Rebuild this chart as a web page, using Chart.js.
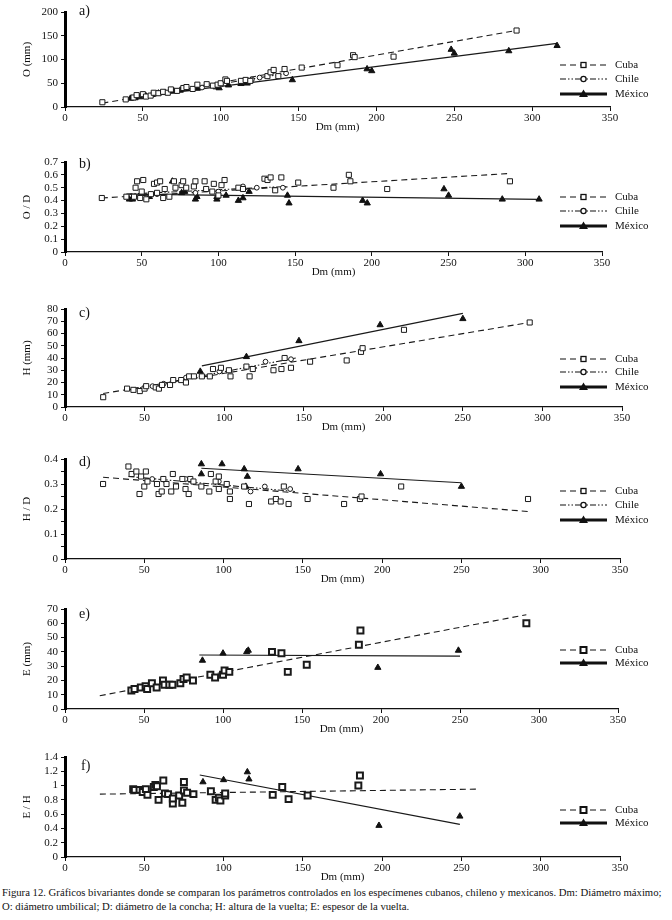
<!DOCTYPE html>
<html><head><meta charset="utf-8">
<script src="https://cdn.jsdelivr.net/npm/chart.js@4/dist/chart.umd.min.js"></script>
<style>
body{margin:0;background:#fff;width:672px;height:920px;position:relative;overflow:hidden;font-family:'Liberation Serif',serif;color:#111;}
canvas{position:absolute;left:0;}
.lbl{position:absolute;font-size:14px;line-height:14px;color:#111;}
.cap{position:absolute;left:2px;font-size:10.7px;line-height:14px;white-space:nowrap;color:#111;}
</style></head><body>
<canvas id="ca"></canvas><canvas id="cb"></canvas><canvas id="cc"></canvas>
<canvas id="cd"></canvas><canvas id="ce"></canvas><canvas id="cf"></canvas>
<div class="lbl" style="left:79px;top:4px">a)</div>
<div class="lbl" style="left:79px;top:157px">b)</div>
<div class="lbl" style="left:79px;top:306px">c)</div>
<div class="lbl" style="left:79px;top:455px">d)</div>
<div class="lbl" style="left:79px;top:607px">e)</div>
<div class="lbl" style="left:81px;top:759px">f)</div>
<div class="cap" style="top:885px">Figura 12. Gráficos bivariantes donde se comparan los parámetros controlados en los especímenes cubanos, chileno y mexicanos. Dm: Diámetro máximo;<br>O: diámetro umbilical; D: diámetro de la concha; H: altura de la vuelta; E: espesor de la vuelta.</div>
<script>
// ---- data (Dm, value) ----
const seriesNames = ['Cuba', 'Chile', 'México'];
const xTicks = [0, 50, 100, 150, 200, 250, 300, 350];

// a) O (mm)
const a_cuba = [[24,10],[39,16],[44,20],[46,25],[50,27],[52,22],[55,24],[57,30],[60,29],[63,32],[66,30],[68,37],[72,34],[76,40],[78,42],[82,38],[85,47],[91,48],[95,45],[98,47],[100,50],[103,58],[104,55],[113,55],[116,57],[119,55],[130,65],[132,73],[134,78],[137,65],[141,80],[152,83],[175,88],[185,109],[186,105],[211,106],[290,161]];
const a_chile = [[58,28],[72,34],[88,41],[100,47],[115,56],[120,58],[125,62],[142,71]];
const a_mex = [[42,18],[45,19],[48,21],[52,23],[56,26],[60,29],[64,30],[70,33],[74,35],[78,38],[85,39],[97,42],[99,40],[105,46],[113,49],[115,53],[117,50],[146,57],[194,80],[197,76],[248,121],[250,113],[285,118],[316,129]];
const a_cubaFit = [[24,8],[288,160]];
const a_chileFit = [[40,18],[145,72]];
const a_mexFit = [[40,18],[316,134]];

// b) O / D
const b_cuba = [[24,0.42],[40,0.43],[45,0.43],[46,0.50],[47,0.55],[49,0.42],[50,0.47],[51,0.56],[53,0.41],[56,0.45],[58,0.53],[60,0.54],[60,0.46],[62,0.55],[64,0.42],[65,0.49],[68,0.43],[71,0.55],[72,0.50],[76,0.52],[77,0.55],[79,0.50],[84,0.51],[85,0.55],[91,0.55],[92,0.49],[96,0.47],[97,0.53],[100,0.44],[102,0.52],[104,0.56],[113,0.50],[116,0.49],[130,0.57],[132,0.56],[134,0.58],[137,0.48],[141,0.58],[152,0.54],[175,0.50],[185,0.60],[186,0.55],[210,0.49],[290,0.55]];
const b_chile = [[60,0.45],[85,0.46],[100,0.47],[116,0.51],[125,0.50],[142,0.50]];
const b_mex = [[42,0.41],[44,0.41],[55,0.43],[70,0.55],[76,0.46],[78,0.47],[85,0.41],[86,0.43],[99,0.41],[99,0.43],[105,0.44],[113,0.40],[116,0.42],[120,0.47],[145,0.44],[146,0.38],[194,0.40],[197,0.38],[247,0.49],[250,0.44],[285,0.41],[309,0.41]];
const b_cubaFit = [[24,0.42],[289,0.61]];
const b_chileFit = [[40,0.45],[145,0.51]];
const b_mexFit = [[42,0.45],[309,0.41]];

// c) H (mm)
const c_cuba = [[24,8],[39,15],[43,14],[47,13],[50,15],[51,17],[57,16],[59,15],[61,18],[66,18],[68,22],[73,22],[76,20],[78,25],[81,25],[86,25],[91,25],[93,31],[98,32],[103,30],[104,25],[114,33],[116,25],[118,31],[131,30],[136,31],[138,40],[142,32],[154,37],[177,38],[186,45],[187,48],[213,63],[292,69]];
const c_chile = [[55,17],[62,19],[76,24],[97,29],[126,37],[142,39]];
const c_mex = [[85,29],[114,41],[147,54],[198,67],[250,72]];
const c_cubaFit = [[24,11],[292,69]];
const c_chileFit = [[40,14],[145,40]];
const c_mexFit = [[86,33.5],[250,76.5]];

// d) H / D
const d_cuba = [[24,0.30],[40,0.37],[42,0.34],[45,0.35],[47,0.26],[48,0.33],[50,0.29],[51,0.35],[52,0.31],[58,0.30],[59,0.26],[61,0.27],[62,0.32],[64,0.30],[67,0.27],[68,0.34],[70,0.29],[74,0.32],[76,0.28],[78,0.26],[79,0.32],[81,0.31],[86,0.29],[91,0.27],[92,0.34],[95,0.31],[97,0.33],[97,0.28],[102,0.30],[104,0.27],[104,0.24],[113,0.29],[116,0.22],[130,0.23],[133,0.24],[136,0.23],[138,0.29],[141,0.22],[153,0.24],[176,0.22],[186,0.24],[187,0.25],[212,0.29],[292,0.24]];
const d_chile = [[55,0.32],[76,0.32],[97,0.31],[117,0.27],[126,0.29],[142,0.28]];
const d_mex = [[86,0.34],[86,0.38],[99,0.38],[113,0.36],[114,0.29],[115,0.33],[147,0.36],[199,0.34],[250,0.29]];
const d_cubaFit = [[24,0.327],[292,0.19]];
const d_chileFit = [[40,0.33],[145,0.27]];
const d_mexFit = [[86,0.363],[250,0.305]];

// e) E (mm)
const e_cuba = [[42,13],[44,14],[48,15],[51,16],[52,14],[55,18],[58,15],[62,20],[63,17],[66,17],[68,17],[73,18],[75,21],[77,22],[81,20],[92,24],[95,22],[100,24],[101,27],[104,26],[131,40],[137,39],[141,26],[153,31],[186,45],[187,55],[292,60]];
const e_mex = [[87,34],[100,39],[115,40],[116,41],[198,29],[249,41]];
const e_cubaFit = [[22,9.3],[292,66]];
const e_mexFit = [[85,37.8],[250,37]];

// f) E / H
const f_cuba = [[43,0.95],[44,0.94],[47,0.94],[49,0.91],[51,0.95],[52,0.87],[56,0.98],[57,1.01],[58,0.99],[59,0.80],[62,1.07],[63,0.89],[65,0.88],[68,0.75],[68,0.82],[72,0.86],[74,0.76],[75,1.05],[75,0.93],[77,0.90],[81,0.88],[92,0.92],[95,0.80],[97,0.83],[98,0.79],[101,0.86],[101,0.89],[131,0.87],[137,0.98],[141,0.81],[153,0.86],[185,1.00],[186,1.14]];
const f_mex = [[87,1.05],[100,1.08],[115,1.19],[116,1.09],[198,0.44],[249,0.57]];
const f_cubaFit = [[22,0.88],[260,0.95]];
const f_mexFit = [[85,1.148],[249,0.457]];

// ---- styles ----
Chart.defaults.font.family = "'Liberation Serif', serif";
Chart.defaults.font.size = 11;
Chart.defaults.color = '#111';

const DASH = {Cuba:[6,4], Chile:[6,2,1.5,2,1.5,2], 'México':[]};
const pts = a => a.map(p => ({x:p[0], y:p[1]}));

function markerDs(name, data, bold){
  if (name === 'Cuba') return {data:pts(data), showLine:false, pointStyle:'rect', pointRadius: bold?4.2:3.6, pointBackgroundColor:'#fff', pointBorderColor:'#1a1a1a', pointBorderWidth: bold?2:1, order:1};
  if (name === 'Chile') return {data:pts(data), showLine:false, pointStyle:'circle', pointRadius:2.4, pointBackgroundColor:'#fff', pointBorderColor:'#1a1a1a', pointBorderWidth:1, order:1};
  return {data:pts(data), showLine:false, pointStyle:'triangle', pointRadius:3.6, pointBackgroundColor:'#111', pointBorderColor:'#111', pointBorderWidth:1, order:1};
}
function lineDs(name, data){
  return {data:pts(data), showLine:true, pointRadius:0, borderColor:'#1a1a1a', borderWidth: name==='México'?1.2:1.1, borderDash:DASH[name], fill:false, order:5};
}

function drawMarker(ctx, kind, x, y, bold){
  ctx.save(); ctx.setLineDash([]);
  if (kind === 'Cuba'){
    const s = bold?6:5;
    ctx.fillStyle='#fff'; ctx.strokeStyle='#111'; ctx.lineWidth = bold?2:1.3;
    ctx.fillRect(x-s/2,y-s/2,s,s); ctx.strokeRect(x-s/2,y-s/2,s,s);
  } else if (kind === 'Chile'){
    ctx.fillStyle='#fff'; ctx.strokeStyle='#111'; ctx.lineWidth=1.3;
    ctx.beginPath(); ctx.arc(x,y,2.6,0,Math.PI*2); ctx.fill(); ctx.stroke();
  } else {
    ctx.fillStyle='#111'; ctx.beginPath();
    ctx.moveTo(x,y-4.5); ctx.lineTo(x+4.5,y+3); ctx.lineTo(x-4.5,y+3); ctx.closePath(); ctx.fill();
  }
  ctx.restore();
}

const legendPlugin = {
  id:'lg',
  afterDraw(chart, args, o){
    const ctx = chart.ctx;
    o.items.forEach(it => {
      const y = it.y - o.T;
      ctx.save();
      ctx.strokeStyle = '#111';
      ctx.lineWidth = it.name==='México' ? 3 : 1.2;
      ctx.setLineDash(DASH[it.name]);
      ctx.beginPath(); ctx.moveTo(560, y); ctx.lineTo(607, y); ctx.stroke();
      ctx.restore();
      drawMarker(ctx, it.name, 583.5, y, o.bold);
      ctx.save();
      ctx.fillStyle = '#111'; ctx.font = "11px 'Liberation Serif'";
      ctx.textBaseline = 'middle'; ctx.textAlign = 'left';
      ctx.fillText(it.name, 615, y + 0.5);
      ctx.restore();
    });
  }
};

function fmt(v){ if (Math.abs(v) < 1e-9) return '0'; return (Math.round(v*1000)/1000).toString(); }

function makePanel(id, P){
  const xh = 27;
  const H = P.bottom - P.T + xh;
  const cv = document.getElementById(id);
  cv.width = 672; cv.height = H;
  cv.style.top = P.T + 'px'; cv.style.width = '672px'; cv.style.height = H + 'px';
  const names = P.series.map(s => s.name);
  const datasets = [];
  P.series.forEach(s => { datasets.push(markerDs(s.name, s.pts, P.bold)); datasets.push(lineDs(s.name, s.fit)); });
  new Chart(cv, {
    type:'scatter',
    data:{datasets},
    options:{
      responsive:false, maintainAspectRatio:false, animation:false,
      layout:{padding:{top:P.top - P.T, left:21, right:672 - P.right, bottom:0}},
      plugins:{legend:{display:false}, tooltip:{enabled:false},
        lg:{T:P.T, bold:P.bold, items:names.map((n,i)=>({name:n, y:P.legendY[i]}))}},
      scales:{
        x:{type:'linear', min:0, max:350,
          afterBuildTicks: sc => { sc.ticks = xTicks.map(v => ({value:v})); },
          afterFit: sc => { sc.height = xh; },
          border:{display:true, color:'#111', width:1.2},
          grid:{display:true, drawOnChartArea:false, drawTicks:true, tickLength:4, tickColor:'#111', tickWidth:1},
          ticks:{padding:1, color:'#111', maxRotation:0, autoSkip:false, font:{size:11}},
          title:{display:true, text:'Dm (mm)', padding:{top:0,bottom:0}, font:{size:11}, color:'#111'}
        },
        y:{type:'linear', min:0, max:P.ymax,
          afterBuildTicks: sc => { const t=[]; for (let v=0; v<=P.ymax+1e-9; v+=P.ystep) t.push({value:Math.round(v*1000)/1000}); sc.ticks=t; },
          afterFit: sc => { sc.width = 44; },
          border:{display:true, color:'#000', width:3},
          grid:{display:true, drawOnChartArea:false, drawTicks:true, tickLength:4, tickColor:'#111', tickWidth:1},
          ticks:{padding:3, color:'#111', autoSkip:false, font:{size:11},
            callback: v => { if (P.labelEvery && Math.abs(v/P.labelEvery - Math.round(v/P.labelEvery)) > 1e-6) return ''; return fmt(v); }},
          title:{display:true, text:P.ytitle, padding:{top:0,bottom:0}, font:{size:11}, color:'#111'}
        }
      }
    },
    plugins:[legendPlugin]
  });
}

makePanel('ca', {T:0, top:12, bottom:107, right:610, ymax:200, ystep:50, ytitle:'O (mm)', legendY:[65,79,94],
  series:[{name:'Cuba',pts:a_cuba,fit:a_cubaFit},{name:'Chile',pts:a_chile,fit:a_chileFit},{name:'México',pts:a_mex,fit:a_mexFit}]});
makePanel('cb', {T:148, top:162, bottom:252, right:602, ymax:0.7, ystep:0.1, ytitle:'O / D', legendY:[197,211,226],
  series:[{name:'Cuba',pts:b_cuba,fit:b_cubaFit},{name:'Chile',pts:b_chile,fit:b_chileFit},{name:'México',pts:b_mex,fit:b_mexFit}]});
makePanel('cc', {T:295, top:309, bottom:407, right:622, ymax:80, ystep:10, ytitle:'H (mm)', legendY:[359,372,387],
  series:[{name:'Cuba',pts:c_cuba,fit:c_cubaFit},{name:'Chile',pts:c_chile,fit:c_chileFit},{name:'México',pts:c_mex,fit:c_mexFit}]});
makePanel('cd', {T:445, top:459, bottom:559, right:620, ymax:0.4, ystep:0.05, labelEvery:0.1, ytitle:'H / D', legendY:[491,505,520],
  series:[{name:'Cuba',pts:d_cuba,fit:d_cubaFit},{name:'Chile',pts:d_chile,fit:d_chileFit},{name:'México',pts:d_mex,fit:d_mexFit}]});
makePanel('ce', {T:595, top:609, bottom:709, right:618, ymax:70, ystep:10, ytitle:'E (mm)', legendY:[650,663], bold:true,
  series:[{name:'Cuba',pts:e_cuba,fit:e_cubaFit},{name:'México',pts:e_mex,fit:e_mexFit}]});
makePanel('cf', {T:743, top:757, bottom:857, right:620, ymax:1.4, ystep:0.2, ytitle:'E / H', legendY:[810,823], bold:true,
  series:[{name:'Cuba',pts:f_cuba,fit:f_cubaFit},{name:'México',pts:f_mex,fit:f_mexFit}]});
</script>
</body></html>
